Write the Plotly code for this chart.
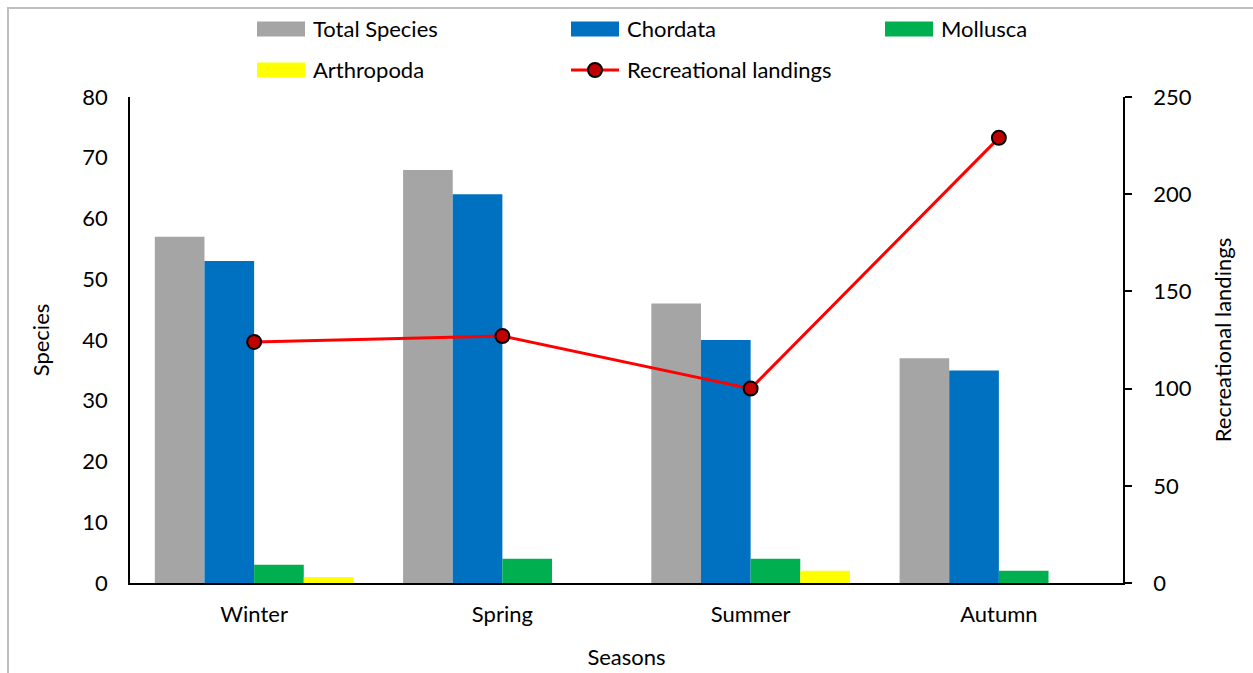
import plotly.graph_objects as go

# Seasonal species counts by phylum and recreational landings
seasons = ["Winter", "Spring", "Summer", "Autumn"]
total_species = [57, 68, 46, 37]
chordata = [53, 64, 40, 35]
mollusca = [3, 4, 4, 2]
arthropoda = [1, 0, 2, 0]
recreational_landings = [124, 127, 100, 229]

W, H = 1253, 673
ML, MR, MT, MB = 130, 130, 97, 90
PW, PH = W - ML - MR, H - MT - MB

FONT = "Lato"
FS = 22

GRAY = "#A5A5A5"
BLUE = "#0070C0"
GREEN = "#00B050"
YELLOW = "#FFFF00"
RED = "#FF0000"
DARKRED = "#C00000"


def px(x):
    """Pixel column -> paper x."""
    return (x - ML) / PW


def py(y):
    """Pixel row -> paper y."""
    return (H - MB - y) / PH


fig = go.Figure()

bar_series = [
    ("Total Species", total_species, GRAY),
    ("Chordata", chordata, BLUE),
    ("Mollusca", mollusca, GREEN),
    ("Arthropoda", arthropoda, YELLOW),
]
for name, vals, col in bar_series:
    fig.add_trace(go.Bar(
        x=seasons, y=vals, name=name, marker=dict(color=col, line=dict(width=0)),
        showlegend=False, yaxis="y",
    ))

fig.add_trace(go.Scatter(
    x=seasons, y=recreational_landings, name="Recreational landings",
    mode="lines+markers", yaxis="y2",
    line=dict(color=RED, width=3),
    marker=dict(size=14, color=DARKRED, line=dict(color="black", width=2)),
    showlegend=False,
))

# Legend drawn as swatches and labels above the plot area
shapes = []
annotations = []
legend_items = [
    ("Total Species", GRAY, "bar", 257, 29),
    ("Chordata", BLUE, "bar", 571, 29),
    ("Mollusca", GREEN, "bar", 885, 29),
    ("Arthropoda", YELLOW, "bar", 257, 70),
    ("Recreational landings", RED, "line", 571, 70),
]
for label, col, kind, x0, yc in legend_items:
    if kind == "bar":
        shapes.append(dict(type="rect", xref="paper", yref="paper",
                           x0=px(x0), x1=px(x0 + 48), y0=py(yc + 7.5), y1=py(yc - 7.5),
                           fillcolor=col, line=dict(width=0)))
    else:
        shapes.append(dict(type="line", xref="paper", yref="paper",
                           x0=px(x0), x1=px(x0 + 48), y0=py(yc), y1=py(yc),
                           line=dict(color=col, width=3)))
        shapes.append(dict(type="circle", xref="paper", yref="paper",
                           x0=px(x0 + 24 - 7), x1=px(x0 + 24 + 7),
                           y0=py(yc + 7), y1=py(yc - 7),
                           fillcolor=DARKRED, line=dict(color="black", width=2)))
    annotations.append(dict(text=label, xref="paper", yref="paper",
                            x=px(x0 + 54), y=py(yc), xanchor="left", yanchor="middle",
                            showarrow=False, font=dict(family=FONT, size=FS, color="black")))

# Light outer frame of the chart area
shapes.append(dict(type="rect", xref="paper", yref="paper",
                   x0=px(8), x1=px(1260), y0=py(690), y1=py(8),
                   line=dict(color="#BFBFBF", width=2), fillcolor="rgba(0,0,0,0)",
                   layer="below"))

fig.update_layout(
    width=W, height=H,
    margin=dict(l=ML, r=MR, t=MT, b=MB, pad=0),
    paper_bgcolor="white", plot_bgcolor="white",
    barmode="group", bargap=0.2, bargroupgap=0,
    font=dict(family=FONT, size=FS, color="black"),
    showlegend=False,
    xaxis=dict(
        showline=True, linecolor="black", linewidth=2, ticks="",
        showgrid=False, ticklabelstandoff=11, automargin=False,
        title=dict(text="Seasons", standoff=23, font=dict(size=FS)),
    ),
    yaxis=dict(
        range=[0, 80], dtick=10, showline=True, linecolor="black", linewidth=1.5,
        ticks="", showgrid=False, zeroline=False, ticklabelstandoff=16,
        automargin=False,
        title=dict(text="Species", standoff=27, font=dict(size=FS)),
    ),
    yaxis2=dict(
        range=[0, 250], dtick=50, overlaying="y", side="right",
        showline=True, linecolor="black", linewidth=1.5,
        ticks="outside", ticklen=7, tickcolor="black", tickwidth=1.5,
        showgrid=False, zeroline=False, ticklabelstandoff=17, automargin=False,
        title=dict(text="Recreational landings", standoff=25, font=dict(size=FS)),
    ),
    shapes=shapes,
    annotations=annotations,
)

fig.write_html("out.html")
